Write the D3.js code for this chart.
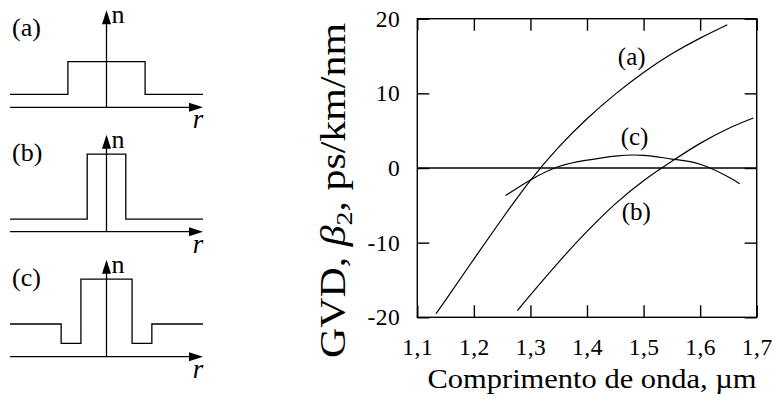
<!DOCTYPE html>
<html>
<head>
<meta charset="utf-8">
<script src="https://cdn.jsdelivr.net/npm/d3@7"></script>
<style>
  html, body { margin: 0; padding: 0; background: #fff; }
  svg { display: block; }
  text { font-family: "Liberation Serif", "DejaVu Serif", serif; fill: #000; }
</style>
</head>
<body>
<svg id="chart" width="773" height="402"></svg>
<script>
// ---------- Data ----------
const xTicks = [1.1, 1.2, 1.3, 1.4, 1.5, 1.6, 1.7];
const xTickLabels = ["1,1", "1,2", "1,3", "1,4", "1,5", "1,6", "1,7"];
const yTicks = [-20, -10, 0, 10, 20];
const yTickLabels = ["-20", "-10", "0", "10", "20"];

const seriesNames = ["(a)", "(b)", "(c)"];
const waveA = [1.133, 1.15, 1.2, 1.25, 1.3, 1.35, 1.4, 1.45, 1.5, 1.55, 1.6, 1.648];
const gvdA  = [-19.5, -17.7, -12.2, -6.8, -1.66, 2.8, 6.6, 9.9, 12.8, 15.3, 17.4, 19.2];
const waveB = [1.277, 1.3, 1.35, 1.4, 1.45, 1.5, 1.55, 1.6, 1.65, 1.694];
const gvdB  = [-19.1, -17.0, -12.6, -8.5, -4.8, -1.7, 0.9, 3.3, 5.3, 6.7];
const waveC = [1.256, 1.3, 1.35, 1.4, 1.45, 1.5, 1.55, 1.6, 1.65, 1.67];
const gvdC  = [-3.7, -1.6, 0.2, 1.05, 1.6, 1.7, 1.2, 0.5, -1.2, -2.1];

// index profiles (schematic): radial step positions and relative index levels
const profileR_A = [-1, -0.4, -0.4, 0.4, 0.4, 1];
const profileN_A = [0.134, 0.134, 0.47, 0.47, 0.134, 0.134];
const profileR_B = [-1, -0.2, -0.2, 0.2, 0.2, 1];
const profileN_B = [0.13, 0.13, 0.8, 0.8, 0.13, 0.13];
const profileR_C = [-1, -0.47, -0.47, -0.265, -0.265, 0.265, 0.265, 0.47, 0.47, 1];
const profileN_C = [0.337, 0.337, 0.138, 0.138, 0.8, 0.8, 0.138, 0.138, 0.337, 0.337];

// ---------- Main chart ----------
const svg = d3.select("#chart");
const x = d3.scaleLinear().domain([1.1, 1.7]).range([417.3, 756.7]);
const y = d3.scaleLinear().domain([-20, 20]).range([317.3, 18.7]);

const g = svg.append("g");
const tickLen = 12;

// frame
g.append("rect")
  .attr("x", x(1.1)).attr("y", y(20))
  .attr("width", x(1.7) - x(1.1)).attr("height", y(-20) - y(20))
  .attr("fill", "none").attr("stroke", "#000").attr("stroke-width", 1.4);

const xb = g.append("g").attr("transform", `translate(0,${y(-20)})`)
  .call(d3.axisBottom(x).tickValues(xTicks)
    .tickFormat((d, i) => xTickLabels[i]).tickSize(-tickLen).tickPadding(21));
const xt = g.append("g").attr("transform", `translate(0,${y(20)})`)
  .call(d3.axisTop(x).tickValues(xTicks).tickFormat("").tickSize(-tickLen));
const yl = g.append("g").attr("transform", `translate(${x(1.1)},0)`)
  .call(d3.axisLeft(y).tickValues(yTicks)
    .tickFormat((d, i) => yTickLabels[i]).tickSize(-tickLen).tickPadding(17));
const yr = g.append("g").attr("transform", `translate(${x(1.7)},0)`)
  .call(d3.axisRight(y).tickValues(yTicks).tickFormat("").tickSize(-tickLen));

[xb, xt, yl, yr].forEach(a => {
  a.attr("font-family", null);
  a.select(".domain").remove();
  a.selectAll(".tick line").attr("stroke", "#000").attr("stroke-width", 1.4);
  a.selectAll(".tick text").style("font-family", '"Liberation Serif", serif')
    .style("font-size", "23.5px").style("letter-spacing", "0.5px").attr("fill", "#000");
});

// zero line
g.append("line")
  .attr("x1", x(1.1)).attr("x2", x(1.7))
  .attr("y1", y(0)).attr("y2", y(0))
  .attr("stroke", "#000").attr("stroke-width", 1.6);

// curves
const line = d3.line().x(d => x(d[0])).y(d => y(d[1])).curve(d3.curveNatural);
const curves = [
  d3.zip(waveA, gvdA),
  d3.zip(waveB, gvdB),
  d3.zip(waveC, gvdC)
];
g.selectAll("path.curve").data(curves).join("path")
  .attr("class", "curve")
  .attr("d", line)
  .attr("fill", "none").attr("stroke", "#000").attr("stroke-width", 1.2);

// curve labels
const curveLabelPos = [[1.479, 14.5], [1.487, -6.2], [1.484, 3.8]];
g.selectAll("text.clabel").data(seriesNames).join("text")
  .attr("class", "clabel")
  .attr("x", (d, i) => x(curveLabelPos[i][0]))
  .attr("y", (d, i) => y(curveLabelPos[i][1]))
  .attr("text-anchor", "middle")
  .attr("dominant-baseline", "middle")
  .style("font-size", "25px")
  .text(d => d);

// axis titles
svg.append("text")
  .attr("x", 592).attr("y", 388)
  .attr("text-anchor", "middle")
  .attr("textLength", 329).attr("lengthAdjust", "spacingAndGlyphs")
  .style("font-size", "28px")
  .text("Comprimento de onda, µm");

const yTitle = svg.append("text")
  .attr("transform", "translate(345,190.5) rotate(-90)")
  .attr("text-anchor", "middle")
  .attr("textLength", 335).attr("lengthAdjust", "spacingAndGlyphs")
  .style("font-size", "36px");
yTitle.append("tspan").text("GVD, ");
yTitle.append("tspan").style("font-style", "italic").text("β");
yTitle.append("tspan").attr("dy", 7).style("font-size", "24px").text("2");
yTitle.append("tspan").attr("dy", -7).text(", ps/km/nm");

// ---------- Index profile panels ----------
const panels = [
  { label: seriesNames[0], axisY: 107.3, r: profileR_A, n: profileN_A },
  { label: seriesNames[1], axisY: 231.7, r: profileR_B, n: profileN_B },
  { label: seriesNames[2], axisY: 356.7, r: profileR_C, n: profileN_C }
];
const rx = d3.scaleLinear().domain([-1, 1]).range([10, 203]);

panels.forEach(p => {
  const ny = d3.scaleLinear().domain([0, 1]).range([p.axisY, p.axisY - 97]);
  const pg = svg.append("g");
  const pline = d3.line().x(d => rx(d[0])).y(d => ny(d[1]));
  pg.append("path").attr("d", pline(d3.zip(p.r, p.n)))
    .attr("fill", "none").attr("stroke", "#000").attr("stroke-width", 1.3);
  pg.append("line").attr("x1", rx(-1)).attr("x2", rx(1) - 10)
    .attr("y1", ny(0)).attr("y2", ny(0))
    .attr("stroke", "#000").attr("stroke-width", 1.3);
  pg.append("path")
    .attr("d", `M${rx(1)},${ny(0)} L${rx(1) - 14},${ny(0) - 4.5} L${rx(1) - 14},${ny(0) + 4.5} Z`)
    .attr("fill", "#000");
  pg.append("line").attr("x1", rx(0)).attr("x2", rx(0))
    .attr("y1", ny(0)).attr("y2", ny(1) + 10)
    .attr("stroke", "#000").attr("stroke-width", 1.3);
  pg.append("path")
    .attr("d", `M${rx(0)},${ny(1)} L${rx(0) - 4.5},${ny(1) + 14} L${rx(0) + 4.5},${ny(1) + 14} Z`)
    .attr("fill", "#000");
  pg.append("text").attr("x", rx(0) + 5).attr("y", ny(1) + 13)
    .style("font-size", "26px").text("n");
  pg.append("text").attr("x", rx(1) - 5).attr("y", ny(0) + 21)
    .attr("text-anchor", "middle")
    .style("font-size", "27px").style("font-style", "italic").text("r");
  pg.append("text").attr("x", 12).attr("y", ny(1) + 26)
    .style("font-size", "26px").text(p.label);
});
</script>
</body>
</html>
